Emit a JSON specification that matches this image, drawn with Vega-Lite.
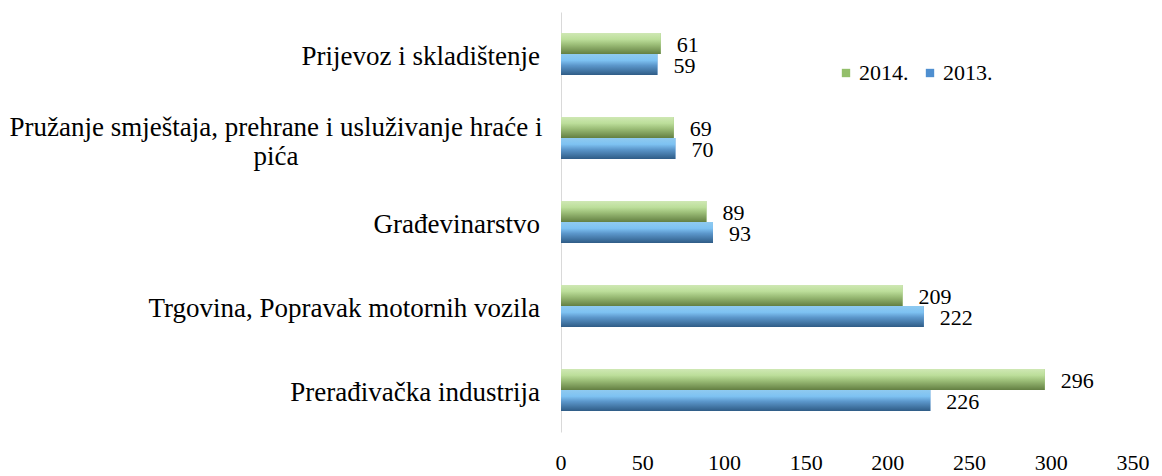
{
  "$schema": "https://vega.github.io/schema/vega-lite/v6.json",
  "width": 572,
  "height": 420,
  "autosize": {"type": "none"},
  "padding": {"left": 561, "top": 12, "right": 29, "bottom": 44},
  "background": "white",
  "config": {
    "view": {"stroke": null},
    "font": "Liberation Serif"
  },
  "datasets": {
    "bars": [
      {"cat": "Prijevoz i skladištenje", "year": "2014.", "value": 61},
      {"cat": "Prijevoz i skladištenje", "year": "2013.", "value": 59},
      {"cat": "Pružanje smještaja, prehrane i usluživanje hraće i pića", "year": "2014.", "value": 69},
      {"cat": "Pružanje smještaja, prehrane i usluživanje hraće i pića", "year": "2013.", "value": 70},
      {"cat": "Građevinarstvo", "year": "2014.", "value": 89},
      {"cat": "Građevinarstvo", "year": "2013.", "value": 93},
      {"cat": "Trgovina, Popravak motornih vozila ", "year": "2014.", "value": 209},
      {"cat": "Trgovina, Popravak motornih vozila ", "year": "2013.", "value": 222},
      {"cat": "Prerađivačka industrija", "year": "2014.", "value": 296},
      {"cat": "Prerađivačka industrija", "year": "2013.", "value": 226}
    ],
    "ticks": [
      {"t": 0}, {"t": 50}, {"t": 100}, {"t": 150}, {"t": 200}, {"t": 250}, {"t": 300}, {"t": 350}
    ]
  },
  "resolve": {"scale": {"y": "independent"}},
  "layer": [
    {
      "data": {"name": "bars"},
      "encoding": {
        "y": {
          "field": "cat", "type": "nominal", "sort": null, "title": null,
          "scale": {"paddingInner": 0.5, "paddingOuter": 0.25},
          "axis": {"domainColor": "#d9d9d9", "ticks": false, "grid": false, "labels": false}
        },
        "x": {
          "field": "value", "type": "quantitative", "title": null,
          "scale": {"domain": [0, 350], "nice": false},
          "axis": null
        }
      },
      "layer": [
        {
          "mark": {"type": "bar"},
          "encoding": {
            "yOffset": {"field": "year", "type": "nominal", "scale": {"domain": ["2014.", "2013."]}},
            "color": {
              "field": "year", "type": "nominal",
              "scale": {"domain": ["2014.", "2013."], "range": ["#93bf6a", "#4f8fd0"]},
              "legend": {
                "orient": "none", "legendX": 274, "legendY": 50, "direction": "horizontal",
                "title": null, "symbolType": "square", "symbolSize": 70,
                "labelFont": "Liberation Serif", "labelFontSize": 22, "labelColor": "#000000",
                "labelOffset": 2, "columnPadding": 10, "padding": 0
              }
            }
          }
        },
        {
          "mark": {"type": "bar"},
          "encoding": {
            "yOffset": {"field": "year", "type": "nominal", "scale": {"domain": ["2014.", "2013."]}},
            "fill": {
              "condition": {
                "test": "datum.year == '2014.'",
                "value": {"gradient": "linear", "x1": 0, "y1": 0, "x2": 0, "y2": 1, "stops": [
                  {"offset": 0, "color": "#cfe8b4"},
                  {"offset": 0.3, "color": "#bcde9a"},
                  {"offset": 0.55, "color": "#9cbe78"},
                  {"offset": 1, "color": "#637f42"}
                ]}
              },
              "value": {"gradient": "linear", "x1": 0, "y1": 0, "x2": 0, "y2": 1, "stops": [
                {"offset": 0, "color": "#8fcaf0"},
                {"offset": 0.3, "color": "#7ec2f2"},
                {"offset": 0.55, "color": "#5b96ca"},
                {"offset": 1, "color": "#2f5c86"}
              ]}
            }
          }
        },
        {
          "mark": {"type": "text", "align": "left", "baseline": "middle", "dx": 16, "dy": 1, "font": "Liberation Serif", "fontSize": 22, "color": "#000000"},
          "encoding": {
            "yOffset": {"field": "year", "type": "nominal", "scale": {"domain": ["2014.", "2013."]}},
            "text": {"field": "value", "type": "quantitative"}
          }
        },
        {
          "transform": [{"filter": "datum.year == '2014.' && indexof(datum.cat, 'pića') < 0"}],
          "mark": {"type": "text", "align": "right", "baseline": "middle", "dx": -21, "dy": 3, "font": "Liberation Serif", "fontSize": 27, "color": "#000000"},
          "encoding": {
            "x": {"datum": 0, "type": "quantitative"},
            "text": {"field": "cat", "type": "nominal"}
          }
        },
        {
          "transform": [{"filter": "datum.year == '2014.' && indexof(datum.cat, 'pića') >= 0"}],
          "mark": {"type": "text", "align": "center", "baseline": "middle", "dx": -285, "dy": -10, "lineHeight": 29, "font": "Liberation Serif", "fontSize": 27, "color": "#000000"},
          "encoding": {
            "x": {"datum": 0, "type": "quantitative"},
            "text": {"value": ["Pružanje smještaja, prehrane i usluživanje hraće i", "pića"]}
          }
        }
      ]
    },
    {
      "data": {"name": "ticks"},
      "mark": {"type": "text", "align": "center", "baseline": "middle", "dy": 31, "font": "Liberation Serif", "fontSize": 22, "color": "#000000"},
      "encoding": {
        "x": {"field": "t", "type": "quantitative", "scale": {"domain": [0, 350], "nice": false}, "axis": null},
        "y": {"datum": 0, "type": "quantitative", "scale": {"domain": [0, 1]}, "axis": null},
        "text": {"field": "t", "type": "quantitative"}
      }
    }
  ]
}
